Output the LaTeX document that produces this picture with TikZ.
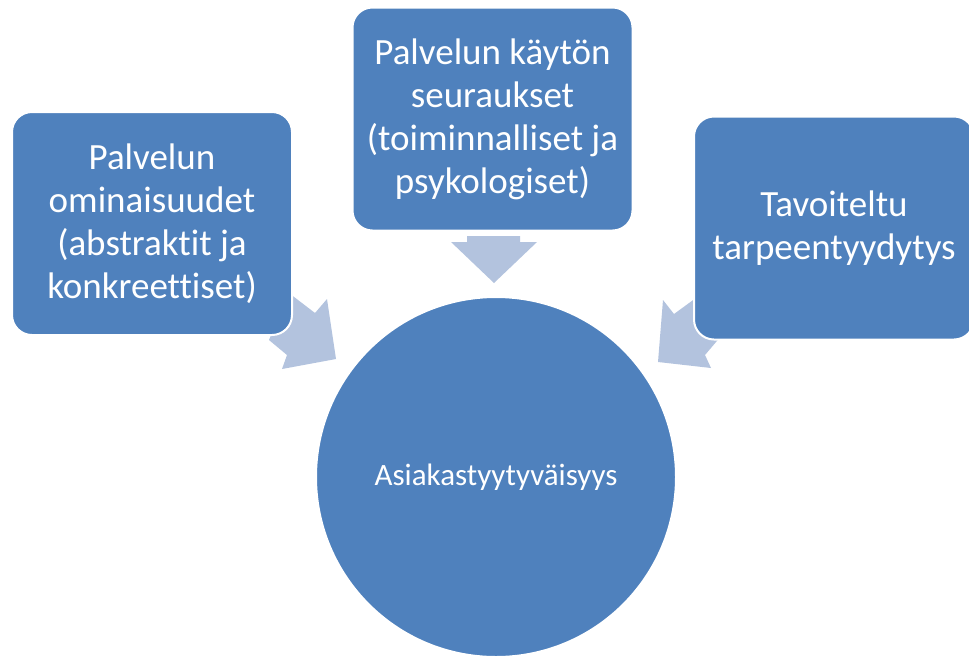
\documentclass[tikz,border=0pt]{standalone}
\usepackage{fontspec}
\setmainfont[Ligatures={NoCommon}]{Carlito}
\definecolor{boxblue}{HTML}{4F81BD}
\definecolor{arrowblue}{HTML}{B3C3DE}

\begin{document}
\begin{tikzpicture}[x = 1pt, y = -1pt,
	kentta/.style = {rectangle, rounded corners=20pt, fill=boxblue, draw=white, line width=2pt, text=white, align=center, minimum width=280pt, minimum height=223pt, inner sep=0pt, font=\fontsize{37}{43}\selectfont},
	ympyra/.style = {circle, fill=boxblue, draw=white, line width=2pt, text=white, minimum size=360pt, inner sep=0pt, font=\fontsize{31}{37}\selectfont},
	nuoli/.style = {fill=arrowblue, draw=none},]
		
		\useasboundingbox (0,0) rectangle (969,657);
		
		% nuolet kohti ympyraa
		\fill[nuoli] (285,290) -- (315,313) -- (327,299) -- (336,359) -- (282,369) -- (287,355) -- (269,340) -- (275,325) -- cycle;
		\fill[nuoli] (467,236) -- (520,236) -- (520,242) -- (537,242) -- (494,283) -- (451,242) -- (467,242) -- cycle;
		\fill[nuoli] (663,300) -- (674,314) -- (700,295) -- (722,335) -- (705,355) -- (711,368) -- (658,362) -- cycle;
		
		\node[kentta] (O) at (152,223.5) {Palvelun\\ominaisuudet\\(abstraktit ja\\konkreettiset)};
		\node[kentta] (S) at (492.5,119) {Palvelun käytön\\seuraukset\\(toiminnalliset ja\\psykologiset)};
		\node[kentta] (T) at (834,228) {Tavoiteltu\\tarpeentyydytys};
		\node[ympyra] (A) at (496,477) {Asiakastyytyväisyys};
		
	\end{tikzpicture}
\end{document}
